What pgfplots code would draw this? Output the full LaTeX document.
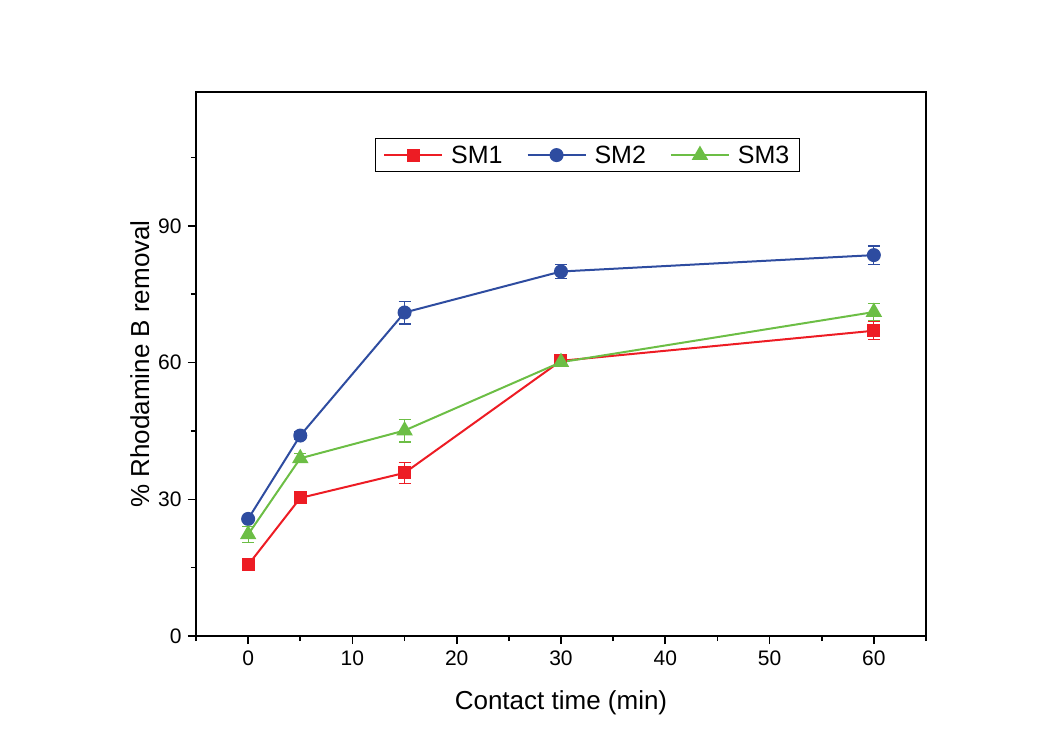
\documentclass[border=0pt]{standalone}
\usepackage{pgfplots}
\pgfplotsset{compat=1.18}
\usepackage{fontspec}
\setmainfont{Liberation Sans}
\definecolor{cred}{RGB}{237,28,36}
\definecolor{cblue}{RGB}{46,76,160}
\definecolor{cgreen}{RGB}{108,190,69}
\begin{document}
\begin{tikzpicture}[x=1bp,y=1bp]
\path[use as bounding box] (-196bp,-115bp) rectangle (865bp,636bp);
\begin{axis}[
  at={(0,0)}, anchor=south west,
  scale only axis, width=730bp, height=544bp,
  xmin=-5, xmax=65, ymin=0, ymax=119.4,
  xtick={0,10,...,60}, minor xtick={-5,5,15,...,65},
  ytick={0,30,60,90}, minor ytick={15,45,75,105},
  axis line style={line width=2bp},
  tick style={line width=1.6bp, black},
  major tick length=8bp, minor tick length=5bp,
  tick align=outside, xtick pos=bottom, ytick pos=left,
  /pgf/number format/assume math mode=true,
  ticklabel style={font=\fontsize{21bp}{24bp}\selectfont},
  xticklabel style={yshift=-3bp}, yticklabel style={xshift=-3bp},
  xlabel={Contact time (min)}, ylabel={\% Rhodamine B removal},
  label style={font=\fontsize{26bp}{30bp}\selectfont},
  xlabel style={yshift=-18bp},
  ylabel style={yshift=2bp},
  legend style={at={(rel axis cs:0.536,0.884)}, anchor=center, legend columns=3,
    font=\fontsize{25bp}{29bp}\selectfont, draw=black, line width=1bp,
    /tikz/every odd column/.style={column sep=6bp},
    /tikz/every even column/.style={column sep=22bp},
    inner xsep=8bp, inner ysep=5bp},
  legend image code/.code={\draw[mark repeat=2,mark phase=2,#1] plot coordinates {(0bp,0bp) (29bp,0bp) (58bp,0bp)};},
  every axis plot/.append style={line width=2bp},
  error bars/error bar style={line width=1.2bp},
  error bars/error mark options={rotate=90, mark size=6bp, line width=1.2bp},
]
\addplot[color=cred, mark=square*, mark size=5.5bp, mark options={solid},
  error bars/.cd, y dir=both, y explicit]
  coordinates {(0,15.6) +- (0,0.8) (5,30.3) +- (0,0.6) (15,35.8) +- (0,2.3) (30,60.4) +- (0,1.0) (60,67.0) +- (0,2.0)};
\addlegendentry{SM1}
\addplot[color=cblue, mark=*, mark size=6bp,
  error bars/.cd, y dir=both, y explicit]
  coordinates {(0,25.7) +- (0,0.6) (5,44.0) +- (0,0.8) (15,71.0) +- (0,2.5) (30,80.0) +- (0,1.5) (60,83.6) +- (0,2.0)};
\addlegendentry{SM2}
\addplot[color=cgreen, mark=triangle*, mark size=7.5bp,
  error bars/.cd, y dir=both, y explicit]
  coordinates {(0,22.3) +- (0,1.8) (5,39.0) +- (0,1.0) (15,45.1) +- (0,2.5) (30,60.1) +- (0,1.0) (60,71.1) +- (0,1.8)};
\addlegendentry{SM3}
\end{axis}
\end{tikzpicture}
\end{document}
